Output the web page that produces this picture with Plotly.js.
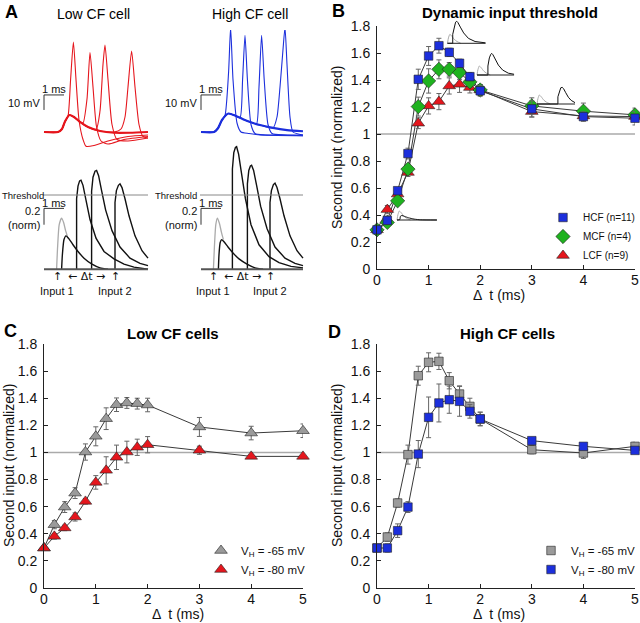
<!DOCTYPE html>
<html><head><meta charset="utf-8">
<script src="https://cdn.plot.ly/plotly-3.0.1.min.js"></script>
<style>html,body{margin:0;padding:0;background:#fff}#chart{width:640px;height:623px}</style>
</head><body><div id="chart"></div>
<script>
// ---------- DATA ----------
const dt = [0, 0.2, 0.4, 0.6, 0.8, 1.0, 1.2, 1.4, 1.6, 1.8, 2, 3, 4, 5];
const xTickVals = [0, 1, 2, 3, 4, 5];
const yTickVals = [0, 0.2, 0.4, 0.6, 0.8, 1, 1.2, 1.4, 1.6, 1.8];
const yTickText = ['0', '0.2', '0.4', '0.6', '0.8', '1', '1.2', '1.4', '1.6', '1.8'];

// Panel B
const hcf    = [0.29, 0.36, 0.58, 0.855, 1.405, 1.578, 1.654, 1.605, 1.524, 1.425, 1.32, 1.186, 1.129, 1.117];
const hcfErr = [0.01, 0.03, 0.02, 0.04, 0.075, 0.07, 0.055, 0.03, 0.03, 0.03, 0.04, 0.06, 0.035, 0.05];
const mcf    = [0.29, 0.345, 0.505, 0.74, 1.203, 1.393, 1.479, 1.479, 1.455, 1.386, 1.326, 1.208, 1.169, 1.142];
const mcfErr = [0.01, 0.03, 0.03, 0.03, 0.07, 0.09, 0.07, 0.05, 0.05, 0.04, 0.04, 0.06, 0.06, 0.05];
const lcf    = [0.29, 0.44, 0.555, 0.715, 1.08, 1.208, 1.24, 1.356, 1.368, 1.344, 1.326, 1.166, 1.134, 1.129];
const lcfErr = [0.01, 0.03, 0.03, 0.03, 0.04, 0.06, 0.06, 0.06, 0.06, 0.04, 0.04, 0.04, 0.03, 0.03];

// Panel C (low CF cells)
const lowV65    = [0.295, 0.467, 0.597, 0.70, 1.003, 1.119, 1.249, 1.352, 1.365, 1.36, 1.35, 1.188, 1.143, 1.16];
const lowV65Err = [0.01, 0.03, 0.04, 0.04, 0.06, 0.07, 0.08, 0.05, 0.04, 0.04, 0.05, 0.07, 0.05, 0.05];
const lowV80    = [0.295, 0.381, 0.443, 0.524, 0.639, 0.779, 0.868, 0.964, 1.003, 1.038, 1.057, 1.016, 0.971, 0.971];
const lowV80Err = [0.01, 0.02, 0.02, 0.03, 0.02, 0.05, 0.1, 0.09, 0.08, 0.06, 0.06, 0.03, 0.01, 0.01];

// Panel D (high CF cells)
const highV65    = [0.295, 0.376, 0.627, 0.984, 1.566, 1.665, 1.672, 1.529, 1.431, 1.34, 1.247, 1.02, 0.996, 1.045];
const highV65Err = [0.01, 0.03, 0.03, 0.07, 0.07, 0.07, 0.06, 0.06, 0.06, 0.06, 0.05, 0.03, 0.04, 0.03];
const highV80    = [0.295, 0.295, 0.423, 0.597, 0.988, 1.259, 1.365, 1.389, 1.377, 1.303, 1.247, 1.087, 1.045, 1.015];
const highV80Err = [0.01, 0.03, 0.05, 0.04, 0.1, 0.15, 0.14, 0.1, 0.11, 0.05, 0.05, 0.02, 0.02, 0.02];

// Panel A, top: membrane voltage traces (time ms, mV above rest)
const redEpspT = [0, 0.7, 0.9, 1.05, 1.27, 1.5, 1.8, 2.2, 2.8, 3.5, 4.3, 5.2];
const redEpspV = [0, 0, 2, 7, 11.3, 10, 6.7, 3.3, 0.7, -0.5, -0.5, 0];
const redSp1T = [0, 0.7, 0.9, 1.05, 1.2, 1.33, 1.47, 1.6, 1.75, 1.95, 2.1, 2.5, 3.2, 4.2, 5.2];
const redSp1V = [0, 0, 2, 7, 10.5, 35, 60, 35, 8, -5, -9.5, -9, -6, -3, -2];
const redSp2T = [0, 0.7, 0.9, 1.05, 1.27, 1.5, 1.8, 1.95, 2.15, 2.3, 2.45, 2.62, 2.85, 3.2, 4.0, 5.2];
const redSp2V = [0, 0, 2, 7, 11.3, 10, 6.7, 6, 22, 53, 30, 4, -6, -8, -5, -3];
const redSp3T = [0, 0.7, 0.9, 1.05, 1.27, 1.5, 1.8, 2.2, 2.6, 2.8, 2.95, 3.05, 3.2, 3.4, 3.65, 4.2, 5.2];
const redSp3V = [0, 0, 2, 7, 11.3, 10, 6.7, 3.3, 1.5, 14, 45, 58, 35, 5, -5, -6, -4];
const redSp4T = [0, 0.7, 0.9, 1.05, 1.27, 1.5, 1.8, 2.2, 2.8, 3.5, 3.85, 4.05, 4.2, 4.38, 4.55, 4.75, 4.95, 5.2];
const redSp4V = [0, 0, 2, 7, 11.3, 10, 6.7, 3.3, 0.7, 0, 2, 10, 30, 54, 30, 5, -3, -4];

const blueEpspT = [0, 0.65, 0.85, 1.05, 1.37, 1.7, 2.1, 2.6, 3.0, 3.6, 4.3, 5.1];
const blueEpspV = [0, 0, 2.5, 8, 12.3, 11, 8.5, 6, 4.5, 2.7, 1.3, 0.5];
const blueSp1T = [0, 0.65, 0.85, 1.05, 1.2, 1.38, 1.48, 1.6, 1.8, 2.0, 2.4, 3, 4, 5.1];
const blueSp1V = [0, 0, 2.5, 8, 11, 40, 69.6, 35, 6, 0, -1, -2, -2, -2];
const blueSp2T = [0, 0.65, 0.85, 1.05, 1.37, 1.7, 1.95, 2.08, 2.2, 2.32, 2.5, 2.7, 3.2, 5.1];
const blueSp2V = [0, 0, 2.5, 8, 12.3, 11, 9.5, 35, 64.5, 35, 5, -1, -2, -2.5];
const blueSp3T = [0, 0.65, 0.85, 1.05, 1.37, 1.7, 2.1, 2.6, 2.78, 2.9, 3.03, 3.16, 3.35, 3.55, 4.2, 5.1];
const blueSp3V = [0, 0, 2.5, 8, 12.3, 11, 8.5, 6, 5.5, 30, 64.5, 35, 5, -1, -2, -2.5];
const blueSp4T = [0, 0.65, 0.85, 1.05, 1.37, 1.7, 2.1, 2.6, 3.0, 3.6, 3.8, 3.95, 4.1, 4.2, 4.3, 4.45, 4.6, 5.1];
const blueSp4V = [0, 0, 2.5, 8, 12.3, 11, 8.5, 6, 4.5, 2.7, 10, 30, 55, 69.6, 45, 10, 0, -2];

// Panel A, bottom: normalized input model (time ms, normalized to threshold)
const lowGrayT = [0.63, 0.68, 0.76, 0.88, 0.98, 1.08, 1.2];
const lowGrayY = [0, 0.3, 0.6, 0.69, 0.63, 0.52, 0.42];
const lowSmallT = [0.88, 0.92, 1.0, 1.1, 1.25, 1.45, 1.7, 2.0, 2.4, 2.8, 3.2];
const lowSmallY = [0, 0.2, 0.4, 0.45, 0.41, 0.33, 0.24, 0.15, 0.07, 0.02, 0];
const lowR1T = [1.63, 1.63, 1.7, 1.78, 1.85, 1.95, 2.1, 2.3, 2.6, 3.0, 3.5, 4.0, 4.5, 5.2];
const lowR1Y = [0, 0.95, 1.12, 1.19, 1.2, 1.13, 0.93, 0.67, 0.42, 0.24, 0.14, 0.07, 0.03, 0];
const lowR2T = [2.38, 2.38, 2.45, 2.55, 2.63, 2.73, 2.88, 3.08, 3.4, 3.8, 4.3, 4.8, 5.2];
const lowR2Y = [0, 1.05, 1.24, 1.32, 1.33, 1.26, 1.06, 0.8, 0.52, 0.3, 0.15, 0.08, 0.05];
const lowR3T = [3.55, 3.55, 3.62, 3.72, 3.8, 3.9, 4.05, 4.25, 4.55, 4.9, 5.2];
const lowR3Y = [0, 0.9, 1.06, 1.13, 1.15, 1.1, 0.95, 0.72, 0.45, 0.25, 0.15];

const highGrayT = [0.62, 0.67, 0.74, 0.82, 0.92, 1.02, 1.12];
const highGrayY = [0, 0.3, 0.6, 0.69, 0.62, 0.5, 0.4];
const highSmallT = [0.87, 0.9, 0.96, 1.03, 1.15, 1.35, 1.6, 1.9, 2.3, 2.7, 3.1];
const highSmallY = [0, 0.2, 0.36, 0.40, 0.37, 0.3, 0.22, 0.14, 0.07, 0.02, 0];
const highR1T = [1.57, 1.57, 1.64, 1.72, 1.78, 1.88, 2.02, 2.22, 2.5, 2.9, 3.4, 3.9, 4.5, 5.1];
const highR1Y = [0, 1.35, 1.57, 1.64, 1.65, 1.55, 1.3, 0.95, 0.6, 0.33, 0.17, 0.09, 0.04, 0.02];
const highR2T = [2.32, 2.32, 2.39, 2.47, 2.53, 2.63, 2.78, 2.98, 3.3, 3.7, 4.2, 4.7, 5.1];
const highR2Y = [0, 1.15, 1.33, 1.39, 1.4, 1.33, 1.13, 0.85, 0.55, 0.3, 0.15, 0.08, 0.05];
const highR3T = [3.45, 3.45, 3.52, 3.62, 3.7, 3.8, 3.95, 4.15, 4.45, 4.8, 5.1];
const highR3Y = [0, 0.9, 1.06, 1.14, 1.16, 1.1, 0.95, 0.72, 0.45, 0.25, 0.15];

// Panel B insets (time ms, normalized)
const insGrayT = [0, 0.1, 0.25, 0.45, 0.7, 1.0, 1.4];
const insGrayY = [0, 0.6, 1.0, 0.8, 0.45, 0.2, 0];
const ins1T = [0, 0.3, 0.35, 0.5, 0.8, 1.2, 1.8, 2.5, 4.2];
const ins1Y = [0, 0.05, 0.4, 0.5, 0.4, 0.25, 0.1, 0.02, 0];
const ins2T = [0, 0.55, 0.55, 0.7, 0.85, 0.97, 1.1, 1.35, 1.7, 2.2, 2.9, 4.0];
const ins2Y = [0, 0, 1.0, 1.9, 2.35, 2.45, 2.3, 1.8, 1.15, 0.55, 0.2, 0.05];
const ins3T = [0, 1.15, 1.15, 1.3, 1.45, 1.55, 1.68, 1.9, 2.25, 2.7, 3.3, 3.9];
const ins3Y = [0, 0, 1.0, 1.9, 2.3, 2.4, 2.25, 1.75, 1.1, 0.55, 0.2, 0.08];
const ins4T = [0, 2.2, 2.2, 2.35, 2.5, 2.65, 2.8, 3.0, 3.3, 3.6, 4.0];
const ins4Y = [0, 0, 0.8, 1.45, 1.8, 1.85, 1.7, 1.3, 0.75, 0.4, 0.15];

// ---------- HELPERS ----------
const W = 640, H = 623;
const FONT = 'Liberation Sans, Arial, Helvetica, sans-serif';
const xd = (a, b) => [a / W, b / W];
const yd = (top, bot) => [1 - bot / H, 1 - top / H];

const lineCol = '#3a3a3a';
const errCol = '#666';

function lineTrace(y, xa, ya) {
  return {x: dt, y: y, xaxis: xa, yaxis: ya, type: 'scatter', mode: 'lines', showlegend: false,
    hoverinfo: 'skip', line: {color: lineCol, width: 1}};
}
function markTrace(y, err, xa, ya, name, symbol, size, color, legend, rank) {
  return {
    x: dt, y: y, xaxis: xa, yaxis: ya, type: 'scatter', mode: 'markers',
    name: name, legend: legend, legendrank: rank, cliponaxis: false,
    marker: {symbol: symbol, size: size, color: color, line: {color: '#222', width: 0.6}},
    error_y: {type: 'data', array: err, visible: true, color: errCol, thickness: 1, width: 2.5}
  };
}
function wave(t, v, xa, ya, color, width) {
  return {x: t, y: v, xaxis: xa, yaxis: ya, type: 'scatter', mode: 'lines', showlegend: false,
    hoverinfo: 'skip', cliponaxis: false,
    line: {color: color, width: width, shape: 'spline', smoothing: 0.6}};
}
function waveLin(t, v, xa, ya, color, width) {
  const tr = wave(t, v, xa, ya, color, width);
  tr.line.shape = 'linear';
  return tr;
}

const RED = '#e5161d', BLUE = '#1c2fdc', GREEN = '#1fb21f';
const GRAYM = '#9a9a9a';

const traces = [
  // B
  lineTrace(lcf, 'x', 'y'), lineTrace(mcf, 'x', 'y'), lineTrace(hcf, 'x', 'y'),
  markTrace(lcf, lcfErr, 'x', 'y', 'LCF (n=9)', 'triangle-up', 11, RED, 'legend', 3),
  markTrace(mcf, mcfErr, 'x', 'y', 'MCF (n=4)', 'diamond', 11, GREEN, 'legend', 2),
  markTrace(hcf, hcfErr, 'x', 'y', 'HCF (n=11)', 'square', 8.5, BLUE, 'legend', 1),
  // C
  lineTrace(lowV65, 'x2', 'y2'), lineTrace(lowV80, 'x2', 'y2'),
  markTrace(lowV65, lowV65Err, 'x2', 'y2', 'V<sub>H</sub> = -65 mV', 'triangle-up', 11, GRAYM, 'legend2', 1),
  markTrace(lowV80, lowV80Err, 'x2', 'y2', 'V<sub>H</sub> = -80 mV', 'triangle-up', 11, RED, 'legend2', 2),
  // D
  lineTrace(highV65, 'x3', 'y3'), lineTrace(highV80, 'x3', 'y3'),
  markTrace(highV65, highV65Err, 'x3', 'y3', 'V<sub>H</sub> = -65 mV', 'square', 8.5, GRAYM, 'legend3', 1),
  markTrace(highV80, highV80Err, 'x3', 'y3', 'V<sub>H</sub> = -80 mV', 'square', 8.5, BLUE, 'legend3', 2),
  // A top-left red
  wave(redEpspT, redEpspV, 'x4', 'y4', RED, 2.2),
  wave(redSp1T, redSp1V, 'x4', 'y4', RED, 1.1),
  wave(redSp2T, redSp2V, 'x4', 'y4', RED, 1.1),
  wave(redSp3T, redSp3V, 'x4', 'y4', RED, 1.1),
  wave(redSp4T, redSp4V, 'x4', 'y4', RED, 1.1),
  // A top-right blue
  wave(blueEpspT, blueEpspV, 'x5', 'y5', BLUE, 2.2),
  wave(blueSp1T, blueSp1V, 'x5', 'y5', BLUE, 1.1),
  wave(blueSp2T, blueSp2V, 'x5', 'y5', BLUE, 1.1),
  wave(blueSp3T, blueSp3V, 'x5', 'y5', BLUE, 1.1),
  wave(blueSp4T, blueSp4V, 'x5', 'y5', BLUE, 1.1),
  // A bottom-left
  wave(lowGrayT, lowGrayY, 'x6', 'y6', '#aaa', 1.3),
  wave(lowSmallT, lowSmallY, 'x6', 'y6', '#111', 1.4),
  waveLin(lowR1T, lowR1Y, 'x6', 'y6', '#111', 1.4),
  waveLin(lowR2T, lowR2Y, 'x6', 'y6', '#111', 1.4),
  waveLin(lowR3T, lowR3Y, 'x6', 'y6', '#111', 1.4),
  // A bottom-right
  wave(highGrayT, highGrayY, 'x7', 'y7', '#aaa', 1.3),
  wave(highSmallT, highSmallY, 'x7', 'y7', '#111', 1.4),
  waveLin(highR1T, highR1Y, 'x7', 'y7', '#111', 1.4),
  waveLin(highR2T, highR2Y, 'x7', 'y7', '#111', 1.4),
  waveLin(highR3T, highR3Y, 'x7', 'y7', '#111', 1.4),
  // B insets
  wave(insGrayT, insGrayY, 'x8', 'y8', '#aaa', 1),
  wave(ins1T, ins1Y, 'x8', 'y8', '#111', 1),
  wave(insGrayT, insGrayY, 'x9', 'y9', '#aaa', 1),
  waveLin(ins2T, ins2Y, 'x9', 'y9', '#111', 1),
  wave(insGrayT, insGrayY, 'x10', 'y10', '#aaa', 1),
  waveLin(ins3T, ins3Y, 'x10', 'y10', '#111', 1),
  wave(insGrayT, insGrayY, 'x11', 'y11', '#aaa', 1),
  waveLin(ins4T, ins4Y, 'x11', 'y11', '#111', 1)
];

// ---------- AXES ----------
function mainX(dom, anchor) {
  return {domain: dom, anchor: anchor, range: [0, 5], tickvals: xTickVals, ticks: 'inside', ticklen: 4,
    tickcolor: '#222', showline: true, linecolor: '#222', linewidth: 1, showgrid: false, zeroline: false,
    ticklabelstandoff: -2,
    tickfont: {family: FONT, size: 14, color: '#111'}, fixedrange: true};
}
function mainY(dom, anchor) {
  return {domain: dom, anchor: anchor, range: [0, 1.8], tickvals: yTickVals, ticktext: yTickText,
    ticks: 'inside', ticklen: 4, tickcolor: '#222', showline: true, linecolor: '#222', linewidth: 1,
    showgrid: false, zeroline: false, ticklabelstandoff: 3,
    tickfont: {family: FONT, size: 14, color: '#111'}, fixedrange: true};
}
function hid(dom, range, anchor) {
  return {domain: dom, range: range, anchor: anchor, visible: false, fixedrange: true};
}

const layout = {
  width: W, height: H, margin: {l: 0, r: 0, t: 0, b: 0, autoexpand: false},
  paper_bgcolor: '#fff', plot_bgcolor: 'rgba(0,0,0,0)',
  font: {family: FONT, color: '#111'},
  showlegend: true,
  xaxis: mainX(xd(377, 635), 'y'), yaxis: mainY(yd(26, 269), 'x'),
  xaxis2: mainX(xd(44, 303), 'y2'), yaxis2: mainY(yd(344, 588), 'x2'),
  xaxis3: mainX(xd(377, 635), 'y3'), yaxis3: mainY(yd(344, 588), 'x3'),
  // Panel A sub-axes: 20 px per ms; top 1.5 px per mV; bottom 74.3 px per unit
  xaxis4: hid(xd(40, 152), [-0.2, 5.4], 'y4'), yaxis4: hid(yd(30, 152), [-13.33, 68], 'x4'),
  xaxis5: hid(xd(197, 309), [-0.2, 5.4], 'y5'), yaxis5: hid(yd(30, 152), [-13.33, 68], 'x5'),
  xaxis6: hid(xd(40, 152), [-0.2, 5.4], 'y6'), yaxis6: hid(yd(140, 275), [-0.0767, 1.7403], 'x6'),
  xaxis7: hid(xd(197, 309), [-0.2, 5.4], 'y7'), yaxis7: hid(yd(140, 275), [-0.0767, 1.7403], 'x7'),
  // B insets: 9.5 px per ms, 9 px per unit
  xaxis8: hid(xd(396, 438), [-0.105, 4.316], 'y8'), yaxis8: hid(yd(205, 222), [-0.222, 1.667], 'x8'),
  xaxis9: hid(xd(446, 487), [-0.158, 4.158], 'y9'), yaxis9: hid(yd(17, 45), [-0.189, 2.922], 'x9'),
  xaxis10: hid(xd(475, 515), [-0.21, 4.0], 'y10'), yaxis10: hid(yd(50, 77), [-0.222, 2.778], 'x10'),
  xaxis11: hid(xd(535, 577), [-0.21, 4.21], 'y11'), yaxis11: hid(yd(84, 106), [-0.222, 2.222], 'x11'),
  legend: {x: 1, y: 1 - 203 / H, xanchor: 'right', yanchor: 'top', bgcolor: 'rgba(0,0,0,0)',
    font: {family: FONT, size: 10, color: '#111'}, tracegroupgap: 0, itemwidth: 30},
  legend2: {x: 201 / W, y: 1 - 536 / H, xanchor: 'left', yanchor: 'top', bgcolor: 'rgba(0,0,0,0)',
    font: {family: FONT, size: 11.5, color: '#111'}, itemwidth: 30},
  legend3: {x: 1, y: 1 - 536 / H, xanchor: 'right', yanchor: 'top', bgcolor: 'rgba(0,0,0,0)',
    font: {family: FONT, size: 11.5, color: '#111'}, itemwidth: 30},
  shapes: [],
  annotations: []
};

// reference lines at 1 in B, C, D
[['x', 'y'], ['x2', 'y2'], ['x3', 'y3']].forEach(([xa, ya]) => {
  layout.shapes.push({type: 'line', xref: xa, yref: ya, x0: 0, x1: 5, y0: 1, y1: 1, layer: 'below',
    line: {color: '#aaa', width: 1.5}});
});
// Panel A scale bars and baselines/threshold
[['x4', 'y4'], ['x5', 'y5']].forEach(([xa, ya]) => {
  layout.shapes.push({type: 'line', xref: xa, yref: ya, x0: 0, x1: 0, y0: 14.7, y1: 24.7, line: {color: '#333', width: 1}});
  layout.shapes.push({type: 'line', xref: xa, yref: ya, x0: 0, x1: 1, y0: 24.7, y1: 24.7, line: {color: '#333', width: 1}});
});
[['x6', 'y6', 5.2], ['x7', 'y7', 5.1]].forEach(([xa, ya, end]) => {
  layout.shapes.push({type: 'line', xref: xa, yref: ya, x0: 0, x1: 0, y0: 0.6, y1: 0.82, line: {color: '#333', width: 1}});
  layout.shapes.push({type: 'line', xref: xa, yref: ya, x0: 0, x1: 1, y0: 0.82, y1: 0.82, line: {color: '#333', width: 1}});
  layout.shapes.push({type: 'line', xref: xa, yref: ya, x0: -0.05, x1: end, y0: 1, y1: 1, line: {color: '#888', width: 1}});
  layout.shapes.push({type: 'line', xref: xa, yref: ya, x0: 0, x1: end, y0: 0, y1: 0, line: {color: '#555', width: 2}});
});
// inset baselines
[['x8', 'y8', 4.2], ['x9', 'y9', 4.0], ['x10', 'y10', 3.9], ['x11', 'y11', 4.0]].forEach(([xa, ya, end]) => {
  layout.shapes.push({type: 'line', xref: xa, yref: ya, x0: 0, x1: end, y0: 0, y1: 0, line: {color: '#222', width: 1}});
});

function ann(text, x, y, opts) {
  layout.annotations.push(Object.assign({text: text, x: x / W, y: 1 - y / H, xref: 'paper', yref: 'paper',
    showarrow: false, xanchor: 'center', yanchor: 'middle', font: {family: FONT, size: 14, color: '#111'}}, opts || {}));
}
// panel letters
ann('<b>A</b>', 11, 12, {font: {family: FONT, size: 18, color: '#000'}});
ann('<b>B</b>', 338, 11, {font: {family: FONT, size: 18, color: '#000'}});
ann('<b>C</b>', 10, 331, {font: {family: FONT, size: 18, color: '#000'}});
ann('<b>D</b>', 334, 332, {font: {family: FONT, size: 18, color: '#000'}});
// titles
ann('<b>Dynamic input threshold</b>', 510, 13, {font: {family: FONT, size: 15, color: '#000'}});
ann('<b>Low CF cells</b>', 173, 333, {font: {family: FONT, size: 15, color: '#000'}});
ann('<b>High CF cells</b>', 507, 333, {font: {family: FONT, size: 15, color: '#000'}});
ann('Low CF cell', 93, 14, {font: {family: FONT, size: 14, color: '#000'}});
ann('High CF cell', 250, 14, {font: {family: FONT, size: 14, color: '#000'}});
// axis titles
const axT = {family: FONT, size: 14, color: '#111'};
ann('Δ  t (ms)', 499, 304, {font: axT, yanchor: 'bottom', borderpad: 0});
ann('Δ  t (ms)', 178, 623, {font: axT, yanchor: 'bottom', borderpad: 0});
ann('Δ  t (ms)', 499, 623, {font: axT, yanchor: 'bottom', borderpad: 0});
ann('Second input (normalized)', 337, 148, {textangle: -90});
ann('Second input (normalized)', 9, 466, {textangle: -90});
ann('Second input (normalized)', 337, 466, {textangle: -90});
// Panel A labels
const sm = {family: FONT, size: 11, color: '#111'};
const sm9 = {family: FONT, size: 9.5, color: '#111'};
const arr = {family: 'DejaVu Sans, sans-serif', size: 11, color: '#111'};
ann('1 ms', 54, 89, {font: sm});
ann('1 ms', 211, 89, {font: sm});
ann('10 mV', 42, 103, {font: sm, xanchor: 'right'});
ann('10 mV', 199, 103, {font: sm, xanchor: 'right'});
ann('1 ms', 54, 203, {font: sm});
ann('1 ms', 211, 203, {font: sm});
ann('Threshold', 45, 195, {font: sm9, xanchor: 'right', borderpad: 0});
ann('Threshold', 198, 195, {font: sm9, xanchor: 'right', borderpad: 0});
ann('0.2', 42, 211, {font: sm, xanchor: 'right'});
ann('0.2', 199, 211, {font: sm, xanchor: 'right'});
ann('(norm)', 42, 225, {font: sm, xanchor: 'right'});
ann('(norm)', 199, 225, {font: sm, xanchor: 'right'});
ann('↑', 57, 276, {font: arr});
ann('↑', 115, 276, {font: arr});
ann('← Δt →', 86, 276, {font: arr});
ann('Input 1', 57, 291, {font: sm});
ann('Input 2', 115, 291, {font: sm});
ann('↑', 213, 276, {font: arr});
ann('↑', 270, 276, {font: arr});
ann('← Δt →', 242, 276, {font: arr});
ann('Input 1', 213, 291, {font: sm});
ann('Input 2', 270, 291, {font: sm});

Plotly.newPlot('chart', traces, layout, {staticPlot: true, displayModeBar: false});
</script>
</body></html>
